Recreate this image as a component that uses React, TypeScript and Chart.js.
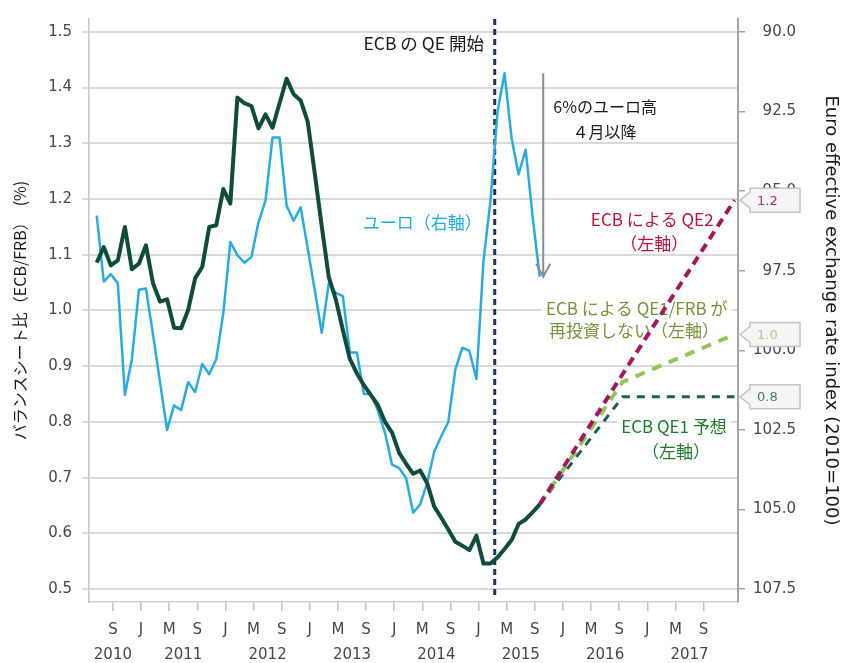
import React, { useEffect, useRef } from "react";
import { Chart, registerables } from "chart.js";

Chart.register(...registerables);

// ---- data (x = months since Jan 2010) ----
const START_MONTH = 5.7; // first monthly observation
const BALANCE_RATIO = [
  1.086, 1.114, 1.081, 1.09, 1.15, 1.074, 1.084, 1.117, 1.049, 1.016, 1.02, 0.969,
  0.968, 1.001, 1.058, 1.078, 1.15, 1.153, 1.218, 1.192, 1.382, 1.372, 1.367, 1.327,
  1.352, 1.328, 1.372, 1.416, 1.388, 1.377, 1.339, 1.247, 1.151, 1.06, 1.02, 0.965,
  0.913, 0.887, 0.866, 0.848, 0.83, 0.8, 0.781, 0.745, 0.725, 0.707, 0.713, 0.69,
  0.648, 0.628, 0.607, 0.585, 0.578, 0.57, 0.596, 0.546, 0.546, 0.557, 0.572, 0.588,
  0.617, 0.625, 0.638, 0.652,
];
const EURO_INDEX = [
  95.77, 97.84, 97.61, 97.89, 101.4, 100.28, 98.1, 98.06, 99.5, 101.0, 102.5, 101.73,
  101.88, 101.0, 101.31, 100.43, 100.75, 100.28, 98.83, 96.6, 97.01, 97.25, 97.07, 95.98,
  95.3, 93.32, 93.32, 95.46, 95.93, 95.51, 96.8, 98.1, 99.45, 97.9, 98.2, 98.3,
  100.07, 100.07, 101.37, 101.37, 101.9, 102.6, 103.59, 103.7, 104.01, 105.1, 104.84, 104.16,
  103.18, 102.7, 102.25, 100.6, 99.92, 100.02, 100.9, 97.2, 95.3, 92.5, 91.3, 93.34,
  94.48, 93.7, 95.82, 97.69,
];
const PROJ_MONTHS = [68.7, 80.5, 96.4];
const QE2_PROJ = [0.652, 0.886, 1.198];
const QE1_FRB_PROJ = [0.652, 0.872, 0.957];
const QE1_PROJ = [0.652, 0.845, 0.845];
const END_LABELS = ["1.2", "1.0", "0.8"];

const QE_START_MONTH = 62.3;
const ARROW_MONTH = 69.2;

const MONTH_TICKS = [8, 12, 16, 20, 24, 28, 32, 36, 40, 44, 48, 52, 56, 60, 64, 68, 72, 76, 80, 84, 88, 92];
const MONTH_LABELS = ["S", "J", "M", "S", "J", "M", "S", "J", "M", "S", "J", "M", "S", "J", "M", "S", "J", "M", "S", "J", "M", "S"];
const YEAR_TICKS = [8, 18, 30, 42, 54, 66, 78, 90];
const YEAR_LABELS = ["2010", "2011", "2012", "2013", "2014", "2015", "2016", "2017"];
const LEFT_TICKS = [0.5, 0.6, 0.7, 0.8, 0.9, 1.0, 1.1, 1.2, 1.3, 1.4, 1.5];
const RIGHT_TICKS = [90, 92.5, 95, 97.5, 100, 102.5, 105, 107.5];

const X_MIN = 4.6;
const X_MAX = 96.9;
const LEFT_MIN = 0.4769;
const LEFT_MAX = 1.5231;
const RIGHT_MIN = 89.596;
const RIGHT_MAX = 107.904;

const LEFT_TITLE = "バランスシート比（ECB/FRB）　(%)";
const RIGHT_TITLE = "Euro effective exchange rate index (2010=100)";

const NOTES = [
  { text: "ECB の QE 開始", month: 52.2, value: 1.479, color: "#1a1a1a", size: 17.5, bg: false },
  { text: "6%のユーロ高", month: 78.0, value: 1.366, color: "#1a1a1a", size: 16, bg: false },
  { text: "４月以降", month: 77.9, value: 1.321, color: "#1a1a1a", size: 16, bg: false },
  { text: "ユーロ（右軸）", month: 52.0, value: 1.157, color: "#1fa9e1", size: 17, bg: false },
  { text: "ECB による QE2", month: 84.7, value: 1.164, color: "#b8143c", size: 17, bg: false },
  { text: "（左軸）", month: 85.0, value: 1.12, color: "#b8143c", size: 17, bg: false },
  { text: "ECB による QE1/FRB が", month: 82.5, value: 1.004, color: "#77933c", size: 17, bg: true },
  { text: "再投資しない（左軸）", month: 82.1, value: 0.964, color: "#77933c", size: 17, bg: true },
  { text: "ECB QE1 予想", month: 87.8, value: 0.791, color: "#217a2a", size: 17, bg: true },
  { text: "（左軸）", month: 88.1, value: 0.747, color: "#217a2a", size: 17, bg: true },
];

const TICK_FONT = { family: "DejaVu Sans", size: 15 };
const TICK_COLOR = "#474747";

const QE2_COLOR = "#9e1a5c";
const QE1_FRB_COLOR = "#93c55a";
const QE1_COLOR = "#1f5d58";
const BOX_TEXT_COLORS = ["#a0306e", "#a9d27a", "#3b7b83"];

const overlayPlugin = {
  id: "overlay",
  beforeDatasetsDraw(chart: any) {
    const { ctx, chartArea, scales } = chart;
    const xs = scales.x;
    const ys = scales.y;
    const vx = xs.getPixelForValue(QE_START_MONTH);
    ctx.save();
    ctx.strokeStyle = "#25325f";
    ctx.lineWidth = 3;
    ctx.setLineDash([6, 4]);
    ctx.beginPath();
    ctx.moveTo(vx, chartArea.top);
    ctx.lineTo(vx, chartArea.bottom - 3);
    ctx.stroke();
    ctx.restore();

    ctx.save();
    ctx.textAlign = "center";
    ctx.textBaseline = "middle";
    NOTES.forEach((n) => {
      ctx.font = `${n.size}px 'Noto Sans CJK JP'`;
      const px = xs.getPixelForValue(n.month);
      const py = ys.getPixelForValue(n.value);
      if (n.bg) {
        const w = ctx.measureText(n.text).width;
        ctx.fillStyle = "#ffffff";
        ctx.fillRect(px - w / 2 - 4, py - 12, w + 8, 24);
      }
      ctx.fillStyle = n.color;
      ctx.fillText(n.text, px, py);
    });
    ctx.restore();
  },
  afterDatasetsDraw(chart: any) {
    const { ctx, chartArea, scales } = chart;
    const xs = scales.x;
    const ys = scales.y;
    const y2 = scales.y2;

    // arrow: from euro peak down to latest euro value
    const ax = xs.getPixelForValue(ARROW_MONTH);
    const top = y2.getPixelForValue(Math.min(...EURO_INDEX));
    const bottom = y2.getPixelForValue(EURO_INDEX[EURO_INDEX.length - 1]);
    ctx.save();
    ctx.strokeStyle = "#8c8c8c";
    ctx.lineWidth = 2;
    ctx.beginPath();
    ctx.moveTo(ax, top);
    ctx.lineTo(ax, bottom);
    ctx.moveTo(ax - 7, bottom - 13);
    ctx.lineTo(ax, bottom);
    ctx.lineTo(ax + 7, bottom - 13);
    ctx.stroke();
    ctx.restore();

    // end-value callouts
    const ends = [QE2_PROJ, QE1_FRB_PROJ, QE1_PROJ];
    ctx.save();
    ctx.font = "13px 'DejaVu Sans'";
    ctx.textBaseline = "middle";
    ctx.textAlign = "left";
    ends.forEach((arr, i) => {
      const py = ys.getPixelForValue(arr[arr.length - 1]);
      const tip = chartArea.right + 2;
      const bx = tip + 10;
      ctx.beginPath();
      ctx.moveTo(tip, py);
      ctx.lineTo(bx, py - 8);
      ctx.lineTo(bx, py - 12);
      ctx.lineTo(bx + 50, py - 12);
      ctx.lineTo(bx + 50, py + 12);
      ctx.lineTo(bx, py + 12);
      ctx.lineTo(bx, py + 8);
      ctx.closePath();
      ctx.fillStyle = "#f5f5f5";
      ctx.fill();
      ctx.strokeStyle = "#c4c4c4";
      ctx.lineWidth = 1.5;
      ctx.stroke();
      ctx.fillStyle = BOX_TEXT_COLORS[i];
      ctx.fillText(END_LABELS[i], bx + 7, py + 1);
    });
    ctx.restore();
  },
};

export default function App() {
  const ref = useRef<HTMLCanvasElement>(null);

  useEffect(() => {
    const canvas = ref.current;
    if (!canvas) return;
    const proj = (vals: number[]) => PROJ_MONTHS.map((m, i) => ({ x: m, y: vals[i] }));
    const chart = new Chart(canvas, {
      type: "line",
      data: {
        datasets: [
          {
            label: "ECB/FRB",
            data: BALANCE_RATIO.map((v, i) => ({ x: START_MONTH + i, y: v })),
            borderColor: "#0f4c3b",
            borderWidth: 4,
            borderJoinStyle: "round",
            xAxisID: "x",
            yAxisID: "y",
          },
          {
            label: "QE2",
            data: proj(QE2_PROJ),
            borderColor: QE2_COLOR,
            borderWidth: 4,
            borderDash: [9, 6],
            xAxisID: "x",
            yAxisID: "y",
          },
          {
            label: "Euro",
            data: EURO_INDEX.map((v, i) => ({ x: START_MONTH + i, y: v })),
            borderColor: "#29abe2",
            borderWidth: 2.5,
            borderJoinStyle: "round",
            xAxisID: "x",
            yAxisID: "y2",
          },
          {
            label: "QE1/FRB",
            data: proj(QE1_FRB_PROJ),
            borderColor: QE1_FRB_COLOR,
            borderWidth: 4,
            borderDash: [10, 8],
            xAxisID: "x",
            yAxisID: "y",
          },
          {
            label: "QE1",
            data: proj(QE1_PROJ),
            borderColor: QE1_COLOR,
            borderWidth: 3,
            borderDash: [8, 7],
            xAxisID: "x",
            yAxisID: "y",
          },
        ],
      } as any,
      options: {
        animation: false,
        responsive: false,
        layout: { padding: { top: 13, left: 0, right: 47, bottom: 0 } },
        elements: { point: { radius: 0 }, line: { tension: 0 } },
        plugins: { legend: { display: false }, tooltip: { enabled: false } },
        scales: {
          x: {
            type: "linear",
            position: "bottom",
            min: X_MIN,
            max: X_MAX,
            afterBuildTicks: (s: any) => {
              s.ticks = MONTH_TICKS.map((v) => ({ value: v }));
            },
            afterFit: (s: any) => {
              s.height = 38;
            },
            grid: { display: true, drawOnChartArea: false, drawTicks: true, tickLength: 9, color: "#bfbfbf", lineWidth: 1.5 },
            border: { display: true, color: "#d0d0d0", width: 1.5 },
            ticks: {
              autoSkip: false,
              maxRotation: 0,
              padding: 10,
              color: TICK_COLOR,
              font: TICK_FONT,
              callback: (_v: any, i: number) => MONTH_LABELS[i],
            },
          },
          x2: {
            type: "linear",
            position: "bottom",
            weight: 1,
            min: X_MIN,
            max: X_MAX,
            afterBuildTicks: (s: any) => {
              s.ticks = YEAR_TICKS.map((v) => ({ value: v }));
            },
            afterFit: (s: any) => {
              s.height = 23;
            },
            grid: { display: false, drawTicks: false },
            border: { display: false },
            ticks: {
              autoSkip: false,
              maxRotation: 0,
              padding: 6,
              color: TICK_COLOR,
              font: TICK_FONT,
              callback: (_v: any, i: number) => YEAR_LABELS[i],
            },
          },
          y: {
            type: "linear",
            position: "left",
            min: LEFT_MIN,
            max: LEFT_MAX,
            afterBuildTicks: (s: any) => {
              s.ticks = LEFT_TICKS.map((v) => ({ value: v }));
            },
            afterFit: (s: any) => {
              s.width = 89;
            },
            grid: { color: "#dadada", lineWidth: 2, drawTicks: true, tickLength: 7 },
            border: { display: true, color: "#c4c4c4", width: 1.5 },
            ticks: {
              autoSkip: false,
              padding: 10,
              color: TICK_COLOR,
              font: TICK_FONT,
              callback: (v: any) => Number(v).toFixed(1),
            },
            title: {
              display: true,
              text: LEFT_TITLE,
              color: "#1a1a1a",
              font: { family: "Noto Sans CJK JP", size: 16 },
              padding: { top: 10, bottom: 0 },
            },
          },
          y2: {
            type: "linear",
            position: "right",
            reverse: true,
            min: RIGHT_MIN,
            max: RIGHT_MAX,
            afterBuildTicks: (s: any) => {
              s.ticks = RIGHT_TICKS.map((v) => ({ value: v }));
            },
            afterFit: (s: any) => {
              s.width = 58;
            },
            grid: { drawOnChartArea: false, drawTicks: true, tickLength: 7, color: "#a6a6a6", lineWidth: 1.5 },
            border: { display: true, color: "#a6a6a6", width: 2 },
            ticks: {
              autoSkip: false,
              padding: 8,
              crossAlign: "far",
              color: TICK_COLOR,
              font: TICK_FONT,
              callback: (v: any) => Number(v).toFixed(1),
            },
            title: {
              display: true,
              text: RIGHT_TITLE,
              color: "#1a1a1a",
              font: { family: "DejaVu Sans", size: 18 },
              padding: { top: -45, bottom: 0 },
            },
          },
        },
      } as any,
      plugins: [overlayPlugin],
    });
    return () => chart.destroy();
  }, []);

  return (
    <div style={{ position: "fixed", left: 0, top: 0, width: 843, height: 663, background: "#ffffff" }}>
      <canvas ref={ref} width={843} height={663} style={{ display: "block", width: 843, height: 663 }} />
    </div>
  );
}
